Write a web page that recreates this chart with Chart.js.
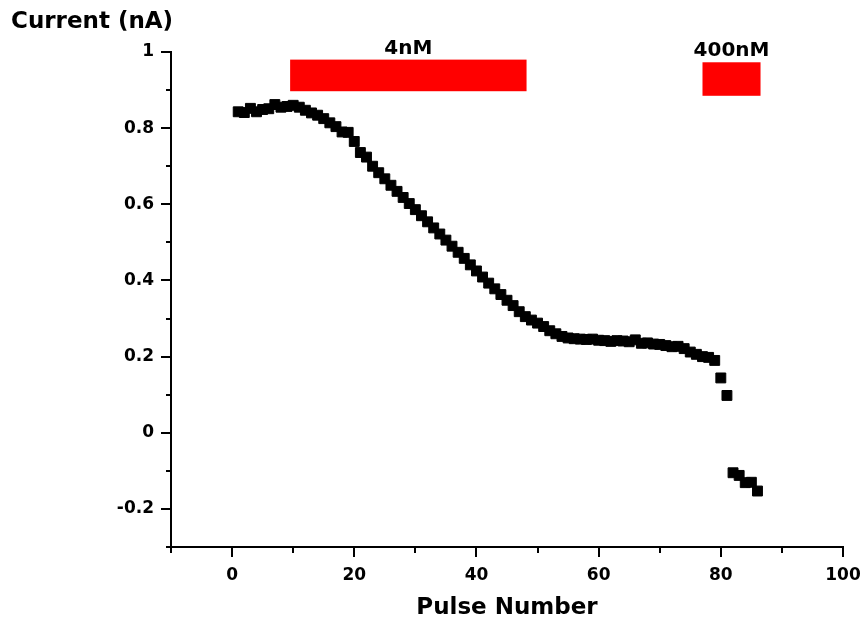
<!DOCTYPE html>
<html>
<head>
<meta charset="utf-8">
<script src="https://cdn.jsdelivr.net/npm/chart.js@4.4.0/dist/chart.umd.min.js"></script>
<style>
  html, body { margin: 0; padding: 0; background: #fff; }
  #wrap { width: 862px; height: 624px; }
</style>
</head>
<body>
<div id="wrap"><canvas id="currentChart"></canvas></div>
<script>
// pulse number (x) and recorded current in nA (y)
const pulseNumbers = [
  1, 2, 3, 4, 5, 6, 7, 8, 9, 10, 11, 12, 13, 14, 15, 16, 17, 18, 19, 20,
  21, 22, 23, 24, 25, 26, 27, 28, 29, 30, 31, 32, 33, 34, 35, 36, 37, 38, 39, 40,
  41, 42, 43, 44, 45, 46, 47, 48, 49, 50, 51, 52, 53, 54, 55, 56, 57, 58, 59, 60,
  61, 62, 63, 64, 65, 66, 67, 68, 69, 70, 71, 72, 73, 74, 75, 76, 77, 78, 79, 80,
  81, 82, 83, 84, 85, 86
];
const currentValues = [
  0.843, 0.841, 0.852, 0.843, 0.849, 0.851, 0.862, 0.855, 0.857, 0.860,
  0.855, 0.847, 0.840, 0.834, 0.825, 0.814, 0.804, 0.790, 0.789, 0.765,
  0.736, 0.724, 0.700, 0.683, 0.667, 0.650, 0.634, 0.618, 0.602, 0.586,
  0.570, 0.554, 0.538, 0.522, 0.506, 0.490, 0.474, 0.458, 0.441, 0.425,
  0.409, 0.393, 0.378, 0.363, 0.348, 0.334, 0.318, 0.305, 0.296, 0.288,
  0.279, 0.268, 0.260, 0.253, 0.249, 0.247, 0.246, 0.245, 0.246, 0.243,
  0.242, 0.240, 0.242, 0.241, 0.239, 0.244, 0.235, 0.236, 0.233, 0.232,
  0.229, 0.226, 0.227, 0.221, 0.212, 0.206, 0.200, 0.198, 0.190, 0.144,
  0.098, -0.105, -0.112, -0.131, -0.130, -0.153
];

// drug application bars (pulse range, current range)
const doseLabels = ['4nM', '400nM'];
const doseStart = [9.5, 77.0];
const doseEnd = [48.2, 86.5];
const doseTop = [0.98, 0.973];
const doseBottom = [0.897, 0.885];

// tick labels
const xTickLabels = [0, 20, 40, 60, 80, 100];
const yTickLabels = [-0.2, 0, 0.2, 0.4, 0.6, 0.8, 1];

const FONT = 'DejaVu Sans, Verdana, sans-serif';

const doseBars = {
  id: 'doseBars',
  beforeDatasetsDraw(chart) {
    const { ctx, scales: { x, y } } = chart;
    ctx.save();
    doseLabels.forEach((label, i) => {
      const left = x.getPixelForValue(doseStart[i]);
      const right = x.getPixelForValue(doseEnd[i]);
      const top = y.getPixelForValue(doseTop[i]);
      const bottom = y.getPixelForValue(doseBottom[i]);
      ctx.fillStyle = '#ff0000';
      ctx.fillRect(left, top, right - left, bottom - top);
      ctx.fillStyle = '#000';
      ctx.font = 'bold 20px ' + FONT;
      ctx.textAlign = 'center';
      ctx.textBaseline = 'middle';
      ctx.fillText(label, (left + right) / 2, top - 11);
    });
    ctx.restore();
  }
};

// major ticks long, minor ticks short, all pointing outward
const tickMarks = {
  id: 'tickMarks',
  afterDraw(chart) {
    const { ctx, scales: { x, y } } = chart;
    ctx.save();
    ctx.strokeStyle = '#000';
    ctx.lineWidth = 2;
    x.ticks.forEach(t => {
      const px = Math.round(x.getPixelForValue(t.value));
      const len = t.label !== '' ? 10 : 6;
      ctx.beginPath();
      ctx.moveTo(px, x.top);
      ctx.lineTo(px, x.top + len);
      ctx.stroke();
    });
    y.ticks.forEach(t => {
      const py = Math.round(y.getPixelForValue(t.value));
      const len = t.label !== '' ? 10 : 5;
      ctx.beginPath();
      ctx.moveTo(y.right, py);
      ctx.lineTo(y.right - len, py);
      ctx.stroke();
    });
    ctx.restore();
  }
};

const ctx = document.getElementById('currentChart').getContext('2d');

new Chart(ctx, {
  type: 'scatter',
  data: {
    datasets: [{
      data: pulseNumbers.map((n, i) => ({ x: n, y: currentValues[i] })),
      pointStyle: 'rect',
      pointRadius: 7,
      pointBorderWidth: 1,
      backgroundColor: '#000',
      borderColor: '#000',
      showLine: false
    }]
  },
  options: {
    responsive: true,
    maintainAspectRatio: false,
    animation: false,
    layout: {
      padding: { left: 11, right: 0, top: 0, bottom: 0 }
    },
    plugins: {
      legend: { display: false },
      tooltip: { enabled: false },
      title: {
        display: true,
        text: 'Current (nA)',
        align: 'start',
        color: '#000',
        font: { family: FONT, size: 23, weight: 'bold' },
        padding: { top: 8, bottom: 16.4 }
      }
    },
    scales: {
      x: {
        type: 'linear',
        min: -10,
        max: 100,
        afterFit: (scale) => {
          scale.height = 77;
          scale.paddingRight = 19;
        },
        border: { display: true, color: '#000', width: 2 },
        grid: { drawOnChartArea: false, drawTicks: true, tickLength: 10, color: 'transparent' },
        ticks: {
          stepSize: 10,
          padding: 8,
          maxRotation: 0,
          autoSkip: false,
          color: '#000',
          font: { family: FONT, size: 17, weight: 'bold' },
          callback: (v) => xTickLabels.includes(v) ? String(v) : ''
        },
        title: {
          display: true,
          text: 'Pulse Number',
          color: '#000',
          font: { family: FONT, size: 23, weight: 'bold' },
          padding: { top: 0, bottom: 2 }
        }
      },
      y: {
        type: 'linear',
        min: -0.3,
        max: 1,
        afterFit: (scale) => { scale.width = 160; },
        border: { display: true, color: '#000', width: 2 },
        grid: { drawOnChartArea: false, drawTicks: true, tickLength: 10, color: 'transparent' },
        ticks: {
          stepSize: 0.1,
          padding: 7,
          autoSkip: false,
          color: '#000',
          font: { family: FONT, size: 17, weight: 'bold' },
          callback: (v) => {
            const r = Math.round(v * 10) / 10;
            return yTickLabels.includes(r) ? String(r) : '';
          }
        }
      }
    }
  },
  plugins: [doseBars, tickMarks]
});
</script>
</body>
</html>
